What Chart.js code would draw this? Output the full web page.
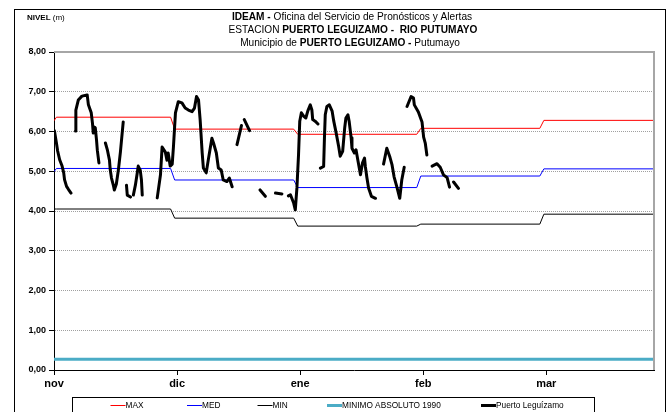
<!DOCTYPE html>
<html>
<head>
<meta charset="utf-8">
<script src="https://cdn.jsdelivr.net/npm/chart.js@4.4.0/dist/chart.umd.min.js"></script>
<style>
  html, body { margin: 0; padding: 0; background: #fff; }
  #wrap { width: 669px; height: 412px; position: relative; }
</style>
</head>
<body>
<div id="wrap"><canvas id="nivelChart" width="669" height="412"></canvas></div>
<script>
// x axis: days since 1 nov, months drawn equally spaced like the original sheet
const monthLabels = ['nov', 'dic', 'ene', 'feb', 'mar'];
const monthStarts = [0, 30.4, 60.8, 91.2, 121.6];
const dayMax = 148.2;
const yTicks = [0, 1, 2, 3, 4, 5, 6, 7, 8];

// monthly reference levels (first value = end of october)
const maxLevels = [6.27, 6.36, 6.06, 5.93, 6.08, 6.28];
const medLevels = [4.99, 5.07, 4.78, 4.59, 4.88, 5.06];
const minLevels = [4.05, 4.05, 3.82, 3.62, 3.67, 3.92];
const minimoAbsoluto = 0.27;

// observed level, Puerto Leguizamo: [day, nivel], one array per unbroken stretch
const obsSegments = [
  [[0.1,6.02],[0.6,5.71],[0.9,5.51],[1.4,5.29],[2.0,5.13],[2.4,4.96],[2.6,4.79],[3.1,4.62],[3.6,4.54],[4.2,4.45]],
  [[5.3,6.01],[5.4,6.54],[6.0,6.79],[6.9,6.89],[8.2,6.92],[8.5,6.67],[9.2,6.47],[9.5,6.21],[9.7,5.96],[10.0,6.11],[10.2,6.09],[10.5,5.79],[10.7,5.53],[11.1,5.21]],
  [[12.7,5.71],[13.2,5.53],[13.7,5.28],[13.9,5.03],[14.2,4.83],[14.7,4.63],[14.9,4.53],[15.4,4.68],[15.9,5.03],[16.4,5.48],[17.1,6.24]],
  [[17.9,4.65],[18.1,4.40],[18.9,4.35]],
  [[19.6,4.40],[20.1,4.65],[20.6,4.98],[20.8,5.13],[21.3,5.03],[21.6,4.78],[21.8,4.40]],
  [[25.5,4.33],[26.3,4.91],[26.7,5.61],[27.5,5.48],[27.9,5.28],[28.2,5.46],[28.7,5.13],[29.2,5.18],[29.5,5.61],[30.0,6.47],[30.7,6.75],[31.6,6.72],[32.4,6.59],[33.2,6.54],[34.1,6.50],[34.7,6.59],[35.2,6.88],[35.7,6.79],[36.1,6.29],[36.6,5.46],[36.9,5.08],[37.6,4.96],[38.1,5.28],[39.0,5.83],[39.4,5.71],[40.1,5.46],[40.6,5.08],[41.3,5.03],[41.8,4.78],[42.7,4.74],[43.3,4.83],[44.0,4.61]],
  [[45.2,5.67],[46.3,6.15]],
  [[47.0,6.30],[48.3,6.02]],
  [[50.9,4.53],[52.2,4.37]],
  [[54.7,4.45],[56.3,4.43]],
  [[57.9,4.38],[58.4,4.41],[59.2,4.20],[59.6,4.03],[60.0,4.58],[60.4,5.42],[60.7,6.26],[61.1,6.47],[61.7,6.38],[62.2,6.34],[62.7,6.52],[63.3,6.67],[63.7,6.54],[63.9,6.30],[64.5,6.26],[65.2,6.19]],
  [[65.8,5.08],[66.6,5.12],[66.8,5.84],[67.0,6.42],[67.4,6.63],[68.0,6.67],[68.7,6.51],[69.1,6.26],[69.7,5.96],[70.3,5.63],[70.7,5.38],[71.3,5.50],[71.8,6.09],[72.1,6.34],[72.6,6.42],[72.9,6.26],[73.4,5.84],[73.6,5.58],[74.2,5.46],[74.6,5.54],[75.1,5.25],[75.7,4.91],[76.2,5.21],[76.7,5.33],[76.9,5.12],[77.3,4.83],[77.7,4.58],[78.4,4.37],[79.4,4.32]],
  [[81.4,5.18],[82.2,5.58],[82.9,5.38],[83.5,5.16],[84.0,4.86],[84.7,4.60],[85.4,4.32],[85.9,4.78],[86.5,5.10]],
  [[87.2,6.63],[88.2,6.88],[88.8,6.84],[89.0,6.67],[90.0,6.49],[90.9,6.24],[91.3,5.86],[91.7,5.71],[92.1,5.41]],
  [[93.4,5.13],[94.6,5.19],[95.4,5.10],[96.2,4.91],[97.1,4.84],[97.7,4.60]],
  [[98.7,4.73],[99.9,4.57]]
];

const FONT = "'Liberation Sans Narrow', 'Arial Narrow', 'Liberation Sans', Arial, sans-serif";

// monthly values -> stepped daily line with a one-day ramp before each month start
function monthlySteps(levels) {
  const pts = [{ x: 0, y: levels[0] }, { x: 0.6, y: levels[1] }];
  for (let i = 1; i < monthStarts.length; i++) {
    pts.push({ x: monthStarts[i] - 1.6, y: levels[i] });
    pts.push({ x: monthStarts[i] - 0.6, y: levels[i + 1] });
  }
  pts.push({ x: dayMax, y: levels[levels.length - 1] });
  return pts;
}

function segmentsToPoints(segs) {
  const pts = [];
  segs.forEach(function(seg, i) {
    if (i > 0) pts.push({ x: (seg[0][0] + segs[i - 1][segs[i - 1].length - 1][0]) / 2, y: null });
    seg.forEach(function(p) { pts.push({ x: p[0], y: p[1] }); });
  });
  return pts;
}

// mixed bold / regular text, centred, squeezed a bit like the narrow font of the original
function drawRuns(ctx, runs, cx, y, size, squeeze) {
  let total = 0;
  runs.forEach(function(r) {
    ctx.font = (r[1] ? 'bold ' : '') + size + 'px ' + FONT;
    total += ctx.measureText(r[0]).width;
  });
  ctx.save();
  ctx.translate(cx, y);
  ctx.scale(squeeze, 1);
  let x = -total / 2;
  runs.forEach(function(r) {
    ctx.font = (r[1] ? 'bold ' : '') + size + 'px ' + FONT;
    ctx.fillText(r[0], x, 0);
    x += ctx.measureText(r[0]).width;
  });
  ctx.restore();
}

const decorPlugin = {
  id: 'decor',
  afterDraw(chart) {
    const ctx = chart.ctx;
    const a = chart.chartArea;
    ctx.save();

    // outer frame
    ctx.strokeStyle = '#000';
    ctx.lineWidth = 1;
    ctx.strokeRect(14.5, 9.5, 651, 420);

    // plot frame top and right
    ctx.strokeStyle = '#a6a6a6';
    ctx.lineWidth = 2;
    ctx.beginPath();
    ctx.moveTo(a.left, a.top);
    ctx.lineTo(a.right, a.top);
    ctx.lineTo(a.right, a.bottom);
    ctx.stroke();

    // titles
    ctx.fillStyle = '#000';
    ctx.textBaseline = 'middle';
    ctx.textAlign = 'left';
    drawRuns(ctx, [['IDEAM -', true], [' Oficina del Servicio de Pronósticos y Alertas', false]], 352, 17, 11, 0.92);
    drawRuns(ctx, [['ESTACION ', false], ['PUERTO LEGUIZAMO -  RIO PUTUMAYO', true]], 353, 30, 11, 0.92);
    drawRuns(ctx, [['Municipio de ', false], ['PUERTO LEGUIZAMO -', true], [' Putumayo', false]], 350, 43, 11, 0.92);

    ctx.font = 'bold 8px ' + FONT;
    ctx.fillText('NIVEL', 27, 18);
    const w = ctx.measureText('NIVEL ').width;
    ctx.font = '8px ' + FONT;
    ctx.fillText('(m)', 27 + w, 18);

    // legend
    ctx.strokeStyle = '#000';
    ctx.lineWidth = 1;
    ctx.strokeRect(72.5, 397.5, 522, 30);
    const legendX = [110.5, 187, 257.5, 327, 481];
    chart.data.datasets.forEach(function(ds, i) {
      const x = legendX[i];
      ctx.strokeStyle = ds.borderColor;
      ctx.lineWidth = ds.borderWidth;
      ctx.beginPath();
      ctx.moveTo(x, 405.5);
      ctx.lineTo(x + 15, 405.5);
      ctx.stroke();
      ctx.fillStyle = '#000';
      ctx.save();
      ctx.translate(x + 15, 406);
      ctx.scale(0.92, 1);
      ctx.font = '9px ' + FONT;
      ctx.fillText(ds.label, 0, 0);
      ctx.restore();
    });
    ctx.restore();
  }
};

new Chart(document.getElementById('nivelChart'), {
  type: 'line',
  data: {
    datasets: [
      { label: 'MAX', data: monthlySteps(maxLevels), borderColor: '#ff0000', borderWidth: 1, order: 4 },
      { label: 'MED', data: monthlySteps(medLevels), borderColor: '#0000ff', borderWidth: 1, order: 3 },
      { label: 'MIN', data: monthlySteps(minLevels), borderColor: '#000000', borderWidth: 1, order: 2 },
      { label: 'MINIMO ABSOLUTO 1990', data: [{ x: 0, y: minimoAbsoluto }, { x: dayMax, y: minimoAbsoluto }], borderColor: '#4bacc6', borderWidth: 3, order: 5 },
      { label: 'Puerto Leguízamo', data: segmentsToPoints(obsSegments), borderColor: '#000000', borderWidth: 3, spanGaps: false, order: 0,
        borderJoinStyle: 'round', borderCapStyle: 'round' }
    ]
  },
  options: {
    responsive: false,
    animation: false,
    devicePixelRatio: 1,
    layout: { padding: { left: 0, right: 15, top: 52, bottom: 0 } },
    elements: { point: { radius: 0 }, line: { tension: 0, fill: false } },
    plugins: { legend: { display: false }, tooltip: { enabled: false }, title: { display: false } },
    scales: {
      x: {
        type: 'linear',
        min: 0,
        max: dayMax,
        afterBuildTicks: function(axis) { axis.ticks = monthStarts.map(function(v) { return { value: v }; }); },
        afterFit: function(axis) { axis.height = 42; },
        ticks: {
          autoSkip: false,
          maxRotation: 0,
          padding: 2,
          color: '#000',
          font: { family: FONT, size: 11, weight: 'bold' },
          callback: function(v, i) { return monthLabels[i]; }
        },
        grid: { drawOnChartArea: false, drawTicks: true, tickLength: 5, tickColor: '#000' },
        border: { color: '#000', width: 1 }
      },
      y: {
        min: 0,
        max: 8,
        afterBuildTicks: function(axis) { axis.ticks = yTicks.map(function(v) { return { value: v }; }); },
        afterFit: function(axis) { axis.width = 54; },
        ticks: {
          padding: 3,
          color: '#000',
          font: { family: FONT, size: 9, weight: 'bold' },
          callback: function(v) { return v.toFixed(2).replace('.', ','); }
        },
        grid: { color: '#a0a0a0', lineWidth: 1, tickLength: 5, tickColor: '#000' },
        border: { color: '#000', width: 1, dash: [1, 1] }
      }
    }
  },
  plugins: [decorPlugin]
});
</script>
</body>
</html>
